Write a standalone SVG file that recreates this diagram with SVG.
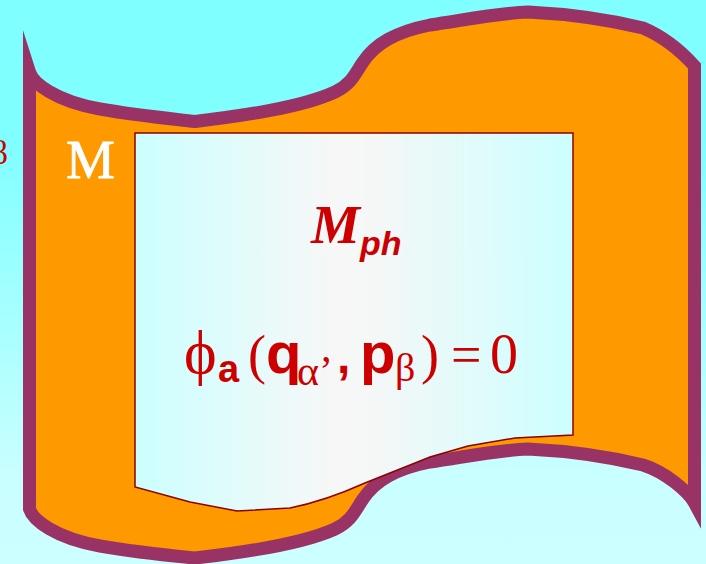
<svg xmlns="http://www.w3.org/2000/svg" width="706" height="564" viewBox="0 0 706 564">
  <defs>
    <linearGradient id="bg" x1="0" y1="0" x2="0" y2="1">
      <stop offset="0" stop-color="#7FFFFF"/>
      <stop offset="0.25" stop-color="#80FFFF"/>
      <stop offset="0.85" stop-color="#CAFFFF"/>
      <stop offset="1" stop-color="#CCFFFF"/>
    </linearGradient>
    <linearGradient id="panel" x1="135" y1="0" x2="573" y2="0" gradientUnits="userSpaceOnUse">
      <stop offset="0" stop-color="#CCFFFF"/>
      <stop offset="0.45" stop-color="#F7F7F7"/>
      <stop offset="0.55" stop-color="#F5F7F7"/>
      <stop offset="1" stop-color="#CCFFFF"/>
    </linearGradient>
    <style>
      .red { fill: #CC0000; }
      .serif { font-family: "Liberation Serif", "Times New Roman", serif; }
      .sans { font-family: "Liberation Sans", Arial, sans-serif; font-weight: bold; }
    </style>
  </defs>

  <rect id="background" x="0" y="0" width="706" height="564" fill="url(#bg)"/>

  <g id="manifold-M">
    <path d="M29.5,72 C33,83 55,101 100,109 C140,116 175,119 195,121.5 C240,116 300,108 335,92 C352,84 356,72 363,62 C375,44 395,32 430,25 C470,19 500,13 528,12 C570,14 610,20 643,28 C662,36 680,50 694.5,66 L694.5,503 C688,491 665,472 643,465 C610,457 570,451 528,449 C500,450 470,456 430,462 C395,469 375,481 363,499 C356,509 352,521 335,529 C300,545 240,553 195,558 C175,556 140,553 100,546 C55,538 33,520 29.5,509 Z"
          fill="#FF9900" stroke="#993366" stroke-width="13" stroke-linejoin="miter" stroke-miterlimit="20"/>
    <text x="66" y="178" class="serif" font-size="55" fill="#FFFFFF" stroke="#FFFFFF" stroke-width="0.8">M</text>
  </g>

  <g id="submanifold-Mph">
    <path d="M135,133 L573,133 L573,435 L515,438 L468,446 L430,457 L365,483 C345,492 320,502 290,508 L237,511 L190,502 L135,487 Z"
          fill="url(#panel)" stroke="#8B0000" stroke-width="1.5"/>
    <text x="311" y="243" class="serif red" font-size="55" font-style="italic" font-weight="bold">M</text>
    <text x="360" y="255" class="sans red" font-size="34" font-style="italic">ph</text>
    <g id="constraint">
      <text x="184" y="373" class="red" font-size="62" font-family="Liberation Serif, DejaVu Serif, serif">ϕ</text>
      <text x="218" y="382" class="sans red" font-size="38">a</text>
      <text x="248" y="373" class="serif red" font-size="54">(</text>
      <text x="266" y="373" class="sans red" font-size="58">q</text>
      <text x="297" y="385" class="serif red" font-size="42">α’</text>
      <text x="337" y="373" class="sans red" font-size="48">,</text>
      <text x="360" y="373" class="sans red" font-size="58">p</text>
      <text x="395" y="381" class="serif red" font-size="40">β</text>
      <text x="421" y="373" class="serif red" font-size="54">)</text>
      <text x="451" y="373" class="serif red" font-size="54">=</text>
      <text x="490" y="373" class="serif red" font-size="56">0</text>
    </g>
  </g>

  <text x="8" y="164" class="serif red" font-size="34" text-anchor="end">β</text>
</svg>
